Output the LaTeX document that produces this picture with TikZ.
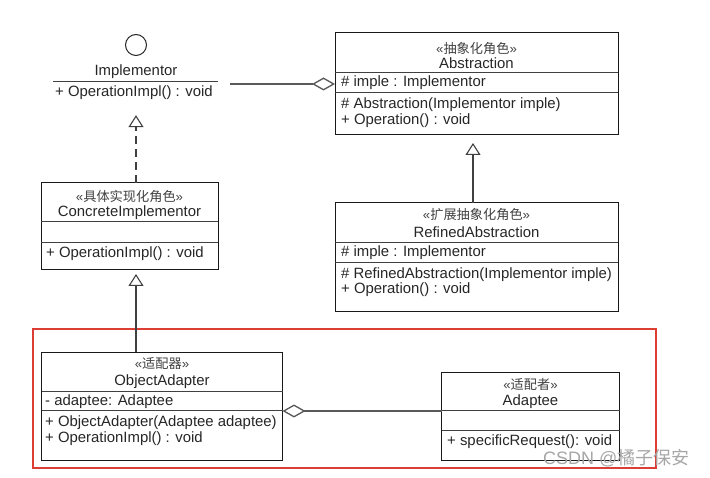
\documentclass[tikz,border=0pt]{standalone}
\usepackage{fontspec}
\setmainfont{Liberation Sans}
\newfontfamily\cjk{Noto Sans CJK SC}
\usetikzlibrary{arrows.meta}
\tikzset{
  classbox/.style={draw=black!90, line width=1pt, inner sep=0pt, outer sep=0pt},
  member/.style={anchor=west, inner sep=0pt, text=black!85, font=\fontsize{14.9}{17}\selectfont},
  title/.style={inner sep=0pt, text=black!85, font=\fontsize{14.9}{17}\selectfont},
  stereo/.style={inner sep=0pt, text=black!75, font=\fontsize{13.2}{15}\selectfont},
  sep/.style={line width=1pt, draw=black!75},
  inherit/.style={draw=black!75, line width=1.1pt, -{Triangle[open, length=12pt, width=15pt, fill=white]}},
  aggr/.style={draw=black!65, line width=1.3pt, -{Diamond[open, length=23pt, width=13pt, fill=white]}},
}

\begin{document}
\begin{tikzpicture}[x=1pt, y=-1pt]
\useasboundingbox (0,0) rectangle (710,478);

% Implementor (interface)
\node[circle, draw=black!85, line width=1pt, minimum size=21pt, inner sep=0pt] (circ) at (136,45) {};
\node[title] (implementor) at (136,72) {Implementor};
\draw[sep] (53,82) -- (218,82);
\node[member] (impl-op) at (55,93) {+ OperationImpl() : void};

% Abstraction
\node[classbox, anchor=north west, minimum width=283pt, minimum height=102pt] (abs) at (335,33) {};
\node[stereo] (abs-st) at (abs.north |- 0,48.5) {«{\cjk 抽象化角色}»};
\node[title] (abs-name) at (abs.north |- 0,63.5) {Abstraction};
\draw[sep] (abs.west |- 0,73) -- (abs.east |- 0,73);
\node[member] (abs-a1) at (341,83) {\# imple : Implementor};
\draw[sep] (abs.west |- 0,93) -- (abs.east |- 0,93);
\node[member] (abs-m1) at (341,105) {\# Abstraction(Implementor imple)};
\node[member] (abs-m2) at (341,121) {+ Operation() : void};

% RefinedAbstraction
\node[classbox, anchor=north west, minimum width=283pt, minimum height=109pt] (refined) at (335,203) {};
\node[stereo] (ref-st) at (refined.north |- 0,215) {«{\cjk 扩展抽象化角色}»};
\node[title] (ref-name) at (refined.north |- 0,232) {RefinedAbstraction};
\draw[sep] (refined.west |- 0,242.5) -- (refined.east |- 0,242.5);
\node[member] (ref-a1) at (341,253) {\# imple : Implementor};
\draw[sep] (refined.west |- 0,263) -- (refined.east |- 0,263);
\node[member] (ref-m1) at (341,274.5) {\# RefinedAbstraction(Implementor imple)};
\node[member] (ref-m2) at (341,290) {+ Operation() : void};

% ConcreteImplementor
\node[classbox, anchor=north west, minimum width=177pt, minimum height=87pt] (concrete) at (41,183) {};
\node[stereo] (con-st) at (concrete.north |- 0,196) {«{\cjk 具体实现化角色}»};
\node[title] (con-name) at (concrete.north |- 0,212.5) {ConcreteImplementor};
\draw[sep] (concrete.west |- 0,222) -- (concrete.east |- 0,222);
\draw[sep] (concrete.west |- 0,243) -- (concrete.east |- 0,243);
\node[member] (con-m1) at (46,254) {+ OperationImpl() : void};

% adapter part
\draw[line width=2.5pt, draw={rgb,255:red,220;green,62;blue,52}] (33,329) rectangle (656,468);

\node[classbox, anchor=north west, minimum width=241pt, minimum height=107.5pt] (adapter) at (41.5,352.5) {};
\node[stereo] (ada-st) at (adapter.north |- 0,364) {«{\cjk 适配器}»};
\node[title] (ada-name) at (adapter.north |- 0,381.5) {ObjectAdapter};
\draw[sep] (adapter.west |- 0,391.5) -- (adapter.east |- 0,391.5);
\node[member] (ada-a1) at (45,401.5) {- adaptee: Adaptee};
\draw[sep] (adapter.west |- 0,411) -- (adapter.east |- 0,411);
\node[member] (ada-m1) at (45,423) {+ ObjectAdapter(Adaptee adaptee)};
\node[member] (ada-m2) at (45,438.5) {+ OperationImpl() : void};

\node[classbox, anchor=north west, minimum width=178pt, minimum height=87.5pt] (adaptee) at (441.5,372.5) {};
\node[stereo] (ade-st) at (adaptee.north |- 0,384) {«{\cjk 适配者}»};
\node[title] (ade-name) at (adaptee.north |- 0,401.5) {Adaptee};
\draw[sep] (adaptee.west |- 0,411) -- (adaptee.east |- 0,411);
\draw[sep] (adaptee.west |- 0,431) -- (adaptee.east |- 0,431);
\node[member] (ade-m1) at (447,442) {+ specificRequest(): void};

% connectors
\coordinate (impl-end) at (230,84);
\draw[aggr] (impl-end) -- (abs.west);
\draw[inherit, dash pattern=on 8pt off 5pt, shorten >=15pt] (concrete.north -| circ) -- (impl-op.south -| circ);
\draw[inherit, shorten >=8pt] ([xshift=-3.5pt]refined.north) -- ([xshift=-3.5pt]abs.south);
\draw[inherit, shorten >=4pt] (adapter.north -| circ) -- (concrete.south -| circ);
\draw[aggr] (adaptee.west |- 0,411) -- (adapter.east |- 0,411);

\node[anchor=west, inner sep=0pt, text=black!35, font=\fontsize{18}{18}\selectfont] (mark) at (543,458) {CSDN @{\cjk 橘子保安}};
\end{tikzpicture}
\end{document}
